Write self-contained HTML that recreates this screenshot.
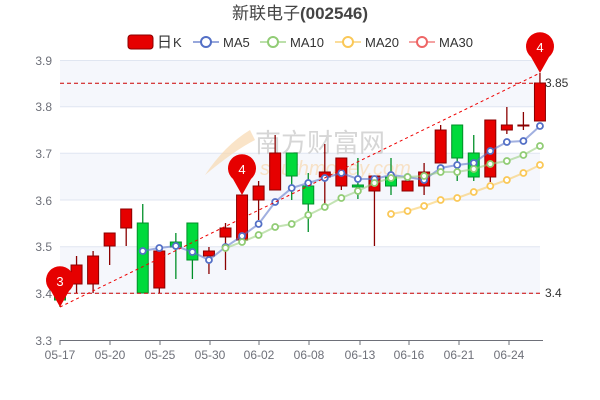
<!DOCTYPE html>
<html><head><meta charset="utf-8"><style>
html,body{margin:0;padding:0;background:#fff;}
svg{display:block;font-family:"Liberation Sans","Noto Sans CJK SC",sans-serif;}
</style></head><body>
<svg id="c" width="600" height="400" viewBox="0 0 600 400" xmlns="http://www.w3.org/2000/svg">
<rect x="60" y="60" width="480" height="46.7" fill="#f5f7fc"/>
<rect x="60" y="153.3" width="480" height="46.7" fill="#f5f7fc"/>
<rect x="60" y="246.7" width="480" height="46.7" fill="#f5f7fc"/>
<g stroke="#e0e6f1" stroke-width="1">
<line x1="60" x2="540" y1="60.5" y2="60.5"/><line x1="60" x2="540" y1="106.7" y2="106.7"/>
<line x1="60" x2="540" y1="153.3" y2="153.3"/><line x1="60" x2="540" y1="200" y2="200"/>
<line x1="60" x2="540" y1="246.7" y2="246.7"/><line x1="60" x2="540" y1="293.3" y2="293.3"/>
</g>
<text x="300" y="19" text-anchor="middle" font-size="17" fill="#444">新联电子<tspan font-weight="bold">(002546)</tspan></text>
<g font-size="13" fill="#333">
<rect x="128" y="35" width="25" height="14" rx="3" fill="#e60000" stroke="#8a0000"/>
<text x="157" y="47" font-size="15">日</text><text x="173" y="47">K</text>
<line x1="193" x2="219" y1="42" y2="42" stroke="#5470c6" stroke-width="2" opacity="0.6"/><circle cx="206" cy="42" r="5" fill="#fff" stroke="#5470c6" stroke-width="2"/><text x="223" y="47">MA5</text>
<line x1="260" x2="286" y1="42" y2="42" stroke="#91cc75" stroke-width="2" opacity="0.6"/><circle cx="273" cy="42" r="5" fill="#fff" stroke="#91cc75" stroke-width="2"/><text x="290" y="47">MA10</text>
<line x1="335" x2="361" y1="42" y2="42" stroke="#fac858" stroke-width="2" opacity="0.6"/><circle cx="348" cy="42" r="5" fill="#fff" stroke="#fac858" stroke-width="2"/><text x="365" y="47">MA20</text>
<line x1="409" x2="435" y1="42" y2="42" stroke="#ee6666" stroke-width="2" opacity="0.6"/><circle cx="422" cy="42" r="5" fill="#fff" stroke="#ee6666" stroke-width="2"/><text x="439" y="47">MA30</text>
</g>
<g font-size="12" fill="#6e7079" text-anchor="end">
<text x="52" y="65">3.9</text><text x="52" y="111">3.8</text><text x="52" y="158">3.7</text>
<text x="52" y="205">3.6</text><text x="52" y="251">3.5</text><text x="52" y="298">3.4</text><text x="52" y="345">3.3</text>
</g>
<text x="255" y="152" font-size="26" fill="#ccc" opacity="0.8">南方财富网</text>
<text x="260" y="175" font-size="20" font-style="italic" fill="#f8d9b0" opacity="0.7">southmoney.com</text>
<path d="M250 130 Q225 145 205 175 Q235 150 255 140 Z" fill="#f8d9b0" opacity="0.7"/>
<line x1="60" x2="543" y1="340.5" y2="340.5" stroke="#6e7079"/>
<g stroke="#6e7079">
<line x1="60" x2="60" y1="340" y2="345"/><line x1="110" x2="110" y1="340" y2="345"/><line x1="160" x2="160" y1="340" y2="345"/><line x1="210" x2="210" y1="340" y2="345"/><line x1="259" x2="259" y1="340" y2="345"/><line x1="309" x2="309" y1="340" y2="345"/><line x1="360" x2="360" y1="340" y2="345"/><line x1="409" x2="409" y1="340" y2="345"/><line x1="459" x2="459" y1="340" y2="345"/><line x1="509" x2="509" y1="340" y2="345"/>
</g>
<g font-size="12" fill="#6e7079" text-anchor="middle">
<text x="60" y="359">05-17</text><text x="110" y="359">05-20</text><text x="160" y="359">05-25</text><text x="210" y="359">05-30</text><text x="259" y="359">06-02</text><text x="309" y="359">06-08</text><text x="360" y="359">06-13</text><text x="409" y="359">06-16</text><text x="459" y="359">06-21</text><text x="509" y="359">06-24</text>
</g>
<g id="dyn"></g>
<line x1="60" x2="540" y1="83.3" y2="83.3" stroke="#c00" stroke-dasharray="4,3"/>
<line x1="60" x2="540" y1="293.3" y2="293.3" stroke="#c00" stroke-dasharray="4,3"/>
<line x1="60" x2="540" y1="307" y2="73" stroke="#e00" stroke-dasharray="3,3"/>
<text x="545" y="87" font-size="12" fill="#333">3.85</text>
<text x="545" y="297" font-size="12" fill="#333">3.4</text>
<g id="pins"></g>
</svg>
<script>
var NS="http://www.w3.org/2000/svg",g=document.getElementById('dyn');
function el(t,a,p){var e=document.createElementNS(NS,t);for(var k in a)e.setAttribute(k,a[k]);(p||g).appendChild(e);return e;}
function X(i){return 60+i*16.55;}
// [bodyTop,bodyBot,wickTop,wickBot,red]
var C=[[296,300,293,307,0],[265,284,256,293,1],[256,284,251,293,1],[233,246,233,265,1],[209,228,209,246,1],[223,293,204,293,0],[251,288,251,293,1],[242,247,233,279,0],[223,260,223,279,0],[251,256,247,274,1],[228,237,223,270,1],[195,240,195,242,1],[186,200,181,220,1],[153,190,135,190,1],[153,176,153,200,0],[186,204,173,232,0],[172,177,144,207,1],[158,186,158,190,1],[185,187,158,199,0],[176,191,176,246,1],[177,186,158,195,0],[181,191,181,191,1],[172,186,163,195,1],[130,163,125,163,1],[125,158,125,181,0],[153,177,135,181,0],[120,177,120,182,1],[125,130,107,134,1],[125,126,112,130,1],[83,121,73,121,1]];
C.forEach(function(c,i){var x=X(i),col=c[4]?'#e60000':'#00da3c',sk=c[4]?'#8a0000':'#008f28';
el('line',{x1:x,x2:x,y1:c[2],y2:c[3],stroke:sk,'stroke-width':1.3});
el('rect',{x:x-5.5,y:c[0],width:11,height:Math.max(1,c[1]-c[0]),fill:col,stroke:sk,'stroke-width':1});});
function ma(s,pts,color){var d='';pts.forEach(function(p,k){d+=(k?'L':'M')+X(p[0])+' '+p[1];});
el('path',{d:d,fill:'none',stroke:color,'stroke-width':2,opacity:0.55});
pts.forEach(function(p){el('circle',{cx:X(p[0]),cy:p[1],r:3,fill:'#fff',stroke:color,'stroke-width':1.8});});}
ma(5,[[5,251],[6,248],[7,246],[8,252],[9,260],[10,247],[11,236],[12,224],[13,202],[14,188],[15,183],[16,178],[17,173],[18,179],[19,179],[20,175],[21,177],[22,180],[23,168],[24,165],[25,163],[26,151],[27,142],[28,141],[29,126]],'#5470c6');
ma(10,[[10,248],[11,242],[12,235],[13,227],[14,224],[15,215],[16,207],[17,198],[18,191],[19,183],[20,178],[21,177],[22,176],[23,172],[24,172],[25,169],[26,164],[27,161],[28,155],[29,146]],'#91cc75');
ma(20,[[20,214],[21,211],[22,206],[23,200],[24,198],[25,192],[26,186],[27,180],[28,173],[29,165]],'#fac858');
var P=document.getElementById('pins');
function pin(x,tip,t){var cy=tip-26,r=14;
el('path',{d:'M'+x+' '+tip+' L'+(x-9)+' '+(cy+10)+' A'+r+' '+r+' 0 1 1 '+(x+9)+' '+(cy+10)+' Z',fill:'#e60000'},P);
var tx=el('text',{x:x,y:cy+5,'text-anchor':'middle','font-size':13,fill:'#fff'},P);tx.textContent=t;}
pin(60,307,'3');pin(242,195,'4');pin(540,73,'4');
</script>
</body></html>
